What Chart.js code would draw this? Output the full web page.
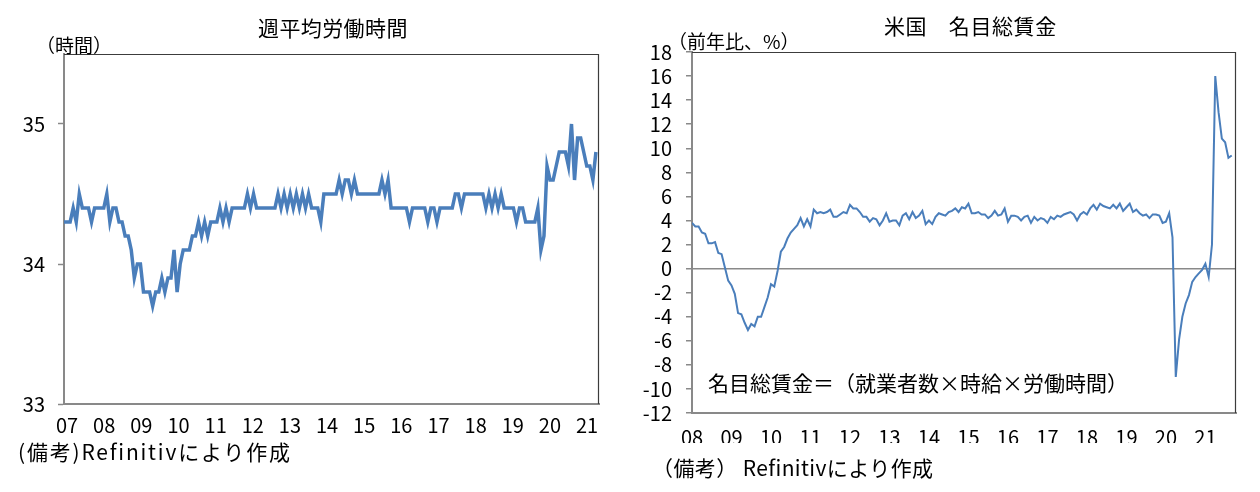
<!DOCTYPE html>
<html lang="ja">
<head>
<meta charset="utf-8">
<script src="https://cdn.jsdelivr.net/npm/chart.js@4.4.0/dist/chart.umd.min.js"></script>
<style>
  html, body { margin: 0; padding: 0; background: #fff; }
  body { width: 1260px; height: 492px; position: relative; overflow: hidden;
         font-family: "Noto Sans CJK JP", sans-serif; color: #000; }
  canvas { position: absolute; top: 0; }
  .txt { position: absolute; white-space: nowrap; line-height: 1; }
</style>
</head>
<body>
<canvas id="hoursChart" width="620" height="492" style="left:0"></canvas>
<canvas id="wageChart" width="640" height="492" style="left:620px"></canvas>

<div class="txt" style="left:258px;top:17px;font-size:21px;letter-spacing:0.4px">週平均労働時間</div>
<div class="txt" style="left:884px;top:15px;font-size:21px;letter-spacing:0.6px">米国　名目総賃金</div>
<div class="txt" style="left:36px;top:35px;font-size:19px">（時間）</div>
<div class="txt" style="left:668px;top:31px;font-size:19px">（前年比、%）</div>
<div class="txt" style="left:708px;top:372px;font-size:21px">名目総賃金＝（就業者数×時給×労働時間）</div>
<div class="txt" style="left:18px;top:441px;font-size:21px;letter-spacing:1.8px">(備考)Refinitivにより作成</div>
<div class="txt" style="left:652px;top:457px;font-size:21px;letter-spacing:0.4px">（備考） Refinitivにより作成</div>

<script>
// 週平均労働時間（月次、2007年3月～2021年9月）
const hoursStartMonth = 2; // 2007年1月 = 0
const hoursValues = [
    34.3, 34.3, 34.3, 34.4, 34.3, 34.5, 34.4, 34.4, 34.4, 34.3,
    34.4, 34.4, 34.4, 34.4, 34.5, 34.3, 34.4, 34.4, 34.3, 34.3, 34.2, 34.2,
    34.1, 33.9, 34.0, 34.0, 33.8, 33.8, 33.8, 33.7, 33.8, 33.8, 33.9, 33.8,
    33.9, 33.9, 34.1, 33.8, 34.0, 34.1, 34.1, 34.1, 34.2, 34.2, 34.3, 34.2,
    34.3, 34.2, 34.3, 34.3, 34.3, 34.4, 34.3, 34.4, 34.3, 34.4, 34.4, 34.4,
    34.4, 34.4, 34.5, 34.4, 34.5, 34.4, 34.4, 34.4, 34.4, 34.4, 34.4, 34.4,
    34.5, 34.4, 34.5, 34.4, 34.5, 34.4, 34.5, 34.4, 34.5, 34.4, 34.5, 34.4,
    34.4, 34.4, 34.3, 34.5, 34.5, 34.5, 34.5, 34.5, 34.6, 34.5, 34.6, 34.6,
    34.5, 34.6, 34.5, 34.5, 34.5, 34.5, 34.5, 34.5, 34.5, 34.5, 34.6, 34.5,
    34.6, 34.4, 34.4, 34.4, 34.4, 34.4, 34.4, 34.3, 34.4, 34.4, 34.4, 34.4,
    34.4, 34.3, 34.4, 34.4, 34.3, 34.4, 34.4, 34.4, 34.4, 34.4, 34.5, 34.5,
    34.4, 34.5, 34.5, 34.5, 34.5, 34.5, 34.5, 34.5, 34.4, 34.5, 34.4, 34.5,
    34.4, 34.5, 34.4, 34.4, 34.4, 34.4, 34.3, 34.4, 34.4, 34.3, 34.3, 34.3,
    34.3, 34.4, 34.1, 34.2, 34.7, 34.6, 34.6, 34.7, 34.8, 34.8, 34.8, 34.7,
    35.0, 34.6, 34.9, 34.9, 34.8, 34.7, 34.7, 34.6, 34.8
];
const hoursYearLabels = ['07', '08', '09', '10', '11', '12', '13', '14', '15', '16', '17', '18', '19', '20', '21'];
const hoursYTicks = [33, 34, 35];

// 米国 名目総賃金 前年比（月次、2008年1月～2021年9月）
const wageValues = [
    3.8, 3.5, 3.5, 3.0, 2.9, 2.1, 2.1, 2.2, 1.3, 1.2, 0.1, -1.0,
    -1.4, -2.1, -3.7, -3.8, -4.5, -5.1, -4.6, -4.8, -4.0, -4.0, -3.2, -2.4,
    -1.3, -1.5, -0.2, 1.4, 1.8, 2.5, 3.0, 3.3, 3.6, 4.2, 3.5, 4.1,
    3.5, 4.9, 4.6, 4.7, 4.6, 4.7, 4.9, 4.3, 4.3, 4.5, 4.7, 4.6,
    5.3, 5.0, 5.0, 4.7, 4.3, 4.3, 3.9, 4.2, 4.1, 3.6, 4.0, 4.6,
    3.9, 4.0, 4.0, 3.6, 4.4, 4.6, 4.1, 4.7, 4.2, 4.4, 4.8, 3.7,
    4.0, 3.7, 4.3, 4.6, 4.5, 4.4, 4.7, 4.8, 5.0, 4.7, 5.1, 5.0,
    5.4, 4.6, 4.6, 4.7, 4.5, 4.5, 4.2, 4.4, 4.8, 4.4, 4.5, 5.0,
    3.9, 4.4, 4.4, 4.3, 4.0, 4.3, 4.4, 3.8, 4.3, 4.0, 4.2, 4.1,
    3.8, 4.3, 4.1, 4.4, 4.3, 4.5, 4.6, 4.7, 4.5, 4.0, 4.5, 4.7,
    4.5, 5.0, 5.3, 4.9, 5.4, 5.2, 5.1, 5.0, 5.3, 5.0, 5.4, 4.8,
    5.1, 5.4, 4.7, 4.9, 4.6, 4.4, 4.5, 4.2, 4.5, 4.5, 4.4, 3.8,
    3.9, 4.6, 2.6, -9.0, -5.9, -4.0, -2.9, -2.2, -1.1, -0.7, -0.4, -0.1,
    0.4, -0.7, 2.0, 16.0, 13.0, 10.8, 10.5, 9.2, 9.4
];
const wageYearLabels = ['08', '09', '10', '11', '12', '13', '14', '15', '16', '17', '18', '19', '20', '21'];
const wageYTicks = [-12, -10, -8, -6, -4, -2, 0, 2, 4, 6, 8, 10, 12, 14, 16, 18];

const NUM_FONT = '"Noto Sans CJK JP", sans-serif';
const LINE_BLUE = '#4a7ebb';
const AXIS_GRAY = '#898989';

// プロットエリアの上と右の枠線
const framePlugin = {
    id: 'frame',
    beforeDatasetsDraw(chart) {
        const { ctx, chartArea: a } = chart;
        ctx.save();
        ctx.strokeStyle = '#3c3c3c';
        ctx.lineWidth = 1.2;
        ctx.beginPath();
        ctx.moveTo(a.left, a.top + 0.5);
        ctx.lineTo(a.right - 0.5, a.top + 0.5);
        ctx.lineTo(a.right - 0.5, a.bottom);
        ctx.stroke();
        ctx.restore();
    }
};

function tickFont() {
    return { family: NUM_FONT, size: 20 };
}

// 左：週平均労働時間
new Chart(document.getElementById('hoursChart'), {
    type: 'line',
    data: {
        datasets: [{
            data: hoursValues.map((v, i) => ({ x: hoursStartMonth + i, y: v })),
            borderColor: LINE_BLUE,
            borderWidth: 3.5,
            pointRadius: 0,
            tension: 0
        }]
    },
    options: {
        responsive: false,
        animation: false,
        layout: { padding: { top: 54, right: 21, bottom: 58, left: 0 } },
        plugins: { legend: { display: false }, tooltip: { enabled: false } },
        scales: {
            x: {
                type: 'linear',
                min: 2,
                max: 177,
                afterBuildTicks: s => { s.ticks = hoursYearLabels.map((l, i) => ({ value: 3 + i * 12.15 })); },
                afterFit: s => { s.height = 30; },
                grid: { display: true, drawOnChartArea: false, drawTicks: false },
                border: { color: AXIS_GRAY, width: 2 },
                ticks: {
                    autoSkip: false, maxRotation: 0, padding: 9, color: '#000', font: tickFont(),
                    callback: (v, i) => hoursYearLabels[i]
                }
            },
            y: {
                min: 33,
                max: 35.5,
                afterBuildTicks: s => { s.ticks = hoursYTicks.map(v => ({ value: v })); },
                afterFit: s => { s.width = 64; },
                grid: { drawOnChartArea: false, tickLength: 6, tickColor: AXIS_GRAY, tickWidth: 1.5 },
                border: { color: AXIS_GRAY, width: 2 },
                ticks: { autoSkip: false, padding: 13, color: '#000', font: tickFont() }
            }
        }
    },
    plugins: [framePlugin]
});

// 右：米国 名目総賃金
new Chart(document.getElementById('wageChart'), {
    type: 'line',
    data: {
        datasets: [{
            data: wageValues.map((v, i) => ({ x: i, y: v })),
            borderColor: LINE_BLUE,
            borderWidth: 2,
            pointRadius: 0,
            tension: 0
        }]
    },
    options: {
        responsive: false,
        animation: false,
        layout: { padding: { top: 52, right: 24, bottom: 49, left: 0 } },
        plugins: { legend: { display: false }, tooltip: { enabled: false } },
        scales: {
            x: {
                type: 'linear',
                min: 0,
                max: 165.3,
                afterBuildTicks: s => { s.ticks = wageYearLabels.map((l, i) => ({ value: i * 12 })); },
                afterFit: s => { s.height = 30; },
                grid: { display: true, drawOnChartArea: false, drawTicks: false },
                border: { color: AXIS_GRAY, width: 2 },
                ticks: {
                    autoSkip: false, maxRotation: 0, padding: 12, color: '#000', font: tickFont(),
                    callback: (v, i) => wageYearLabels[i]
                }
            },
            y: {
                min: -12,
                max: 18,
                afterBuildTicks: s => { s.ticks = wageYTicks.map(v => ({ value: v })); },
                afterFit: s => { s.width = 72; },
                grid: {
                    color: c => (c.tick && c.tick.value === 0 ? AXIS_GRAY : 'rgba(0,0,0,0)'),
                    lineWidth: 1.5,
                    tickLength: 6, tickColor: AXIS_GRAY, tickWidth: 1.5
                },
                border: { color: AXIS_GRAY, width: 2 },
                ticks: { autoSkip: false, padding: 14, color: '#000', font: tickFont() }
            }
        }
    },
    plugins: [framePlugin]
});
</script>
</body>
</html>
